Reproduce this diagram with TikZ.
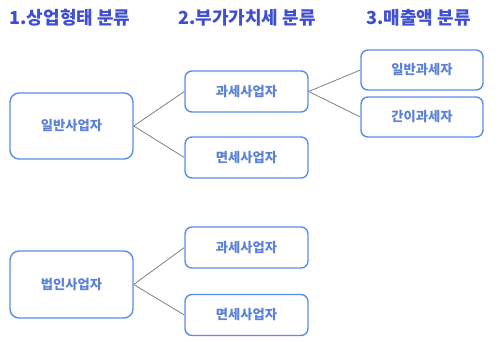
\documentclass[tikz,border=0pt]{standalone}
\usepackage{fontspec}
\setmainfont{Noto Sans CJK KR}
\usepackage{tikz}
\usetikzlibrary{positioning}
\definecolor{headblue}{HTML}{3F4FCF}
\definecolor{boxblue}{HTML}{5B8DE8}
\definecolor{txtblue}{HTML}{5B82D6}
\tikzset{
  head/.style={text=headblue, font=\fontsize{18}{21}\selectfont\bfseries},
  bizbox/.style={draw=boxblue, line width=1.4pt, rounded corners=7pt,
    text=txtblue, font=\fontsize{13.3}{16}\selectfont\bfseries,
    minimum width=123pt, minimum height=41pt, inner sep=0pt},
  bigbox/.style={bizbox, minimum height=66pt, rounded corners=9pt},
  link/.style={draw=gray, line width=0.8pt}
}

\begin{document}
\begin{tikzpicture}[x=1pt, y=-1pt]
\useasboundingbox (0,0) rectangle (500,342);

\node[head] (h1) at (70,18) {1.상업형태 분류};
\node[head] (h2) at (247,18) {2.부가가치세 분류};
\node[head] (h3) at (418.5,18) {3.매출액 분류};

% 일반사업자
\node[bigbox] (ilban) at (71.5,126) {일반사업자};
\node[bizbox] (gwase1) at (246.5,91.5) {과세사업자};
\node[bizbox] (myeon1) at (246.5,157.5) {면세사업자};
\node[bizbox, minimum width=122pt, minimum height=40pt] (ilgwa) at (422,70) {일반과세자};
\node[bizbox, minimum width=122pt, minimum height=40pt] (gangwa) at (422,117) {간이과세자};

% 법인사업자
\node[bigbox, minimum height=67pt] (beob) at (71.5,284.5) {법인사업자};
\node[bizbox] (gwase2) at (246.5,247.5) {과세사업자};
\node[bizbox] (myeon2) at (246.5,315) {면세사업자};

\draw[link] (ilban.east) -- (gwase1.west);
\draw[link] (ilban.east) -- (myeon1.west);
\draw[link] (gwase1.east) -- (ilgwa.west);
\draw[link] (gwase1.east) -- (gangwa.west);
\draw[link] (beob.east) -- (gwase2.west);
\draw[link] (beob.east) -- (myeon2.west);
\end{tikzpicture}
\end{document}
